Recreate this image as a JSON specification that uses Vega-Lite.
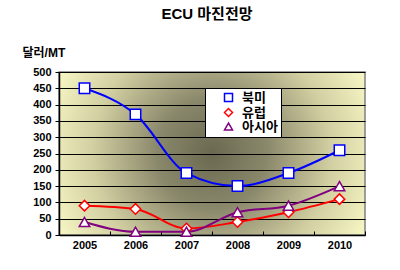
{
  "$schema": "https://vega.github.io/schema/vega-lite/v6.json",
  "width": 306,
  "height": 163,
  "autosize": {"type": "none"},
  "padding": {"left": 59, "top": 72, "right": 35, "bottom": 35},
  "background": "white",
  "title": {
    "text": "ECU 마진전망",
    "font": "Liberation Sans, Noto Sans CJK KR",
    "fontSize": 15,
    "fontWeight": "bold",
    "color": "black",
    "anchor": "middle",
    "dx": -5,
    "offset": 24
  },
  "config": {
    "font": "Liberation Sans, Noto Sans CJK KR",
    "view": {
      "stroke": "#808080",
      "strokeWidth": 1.5,
      "fill": {
        "gradient": "radial",
        "x1": 0.5, "y1": 0.5, "r1": 0,
        "x2": 0.5, "y2": 0.5, "r2": 0.6,
        "stops": [
          {"offset": 0, "color": "#6a6950"},
          {"offset": 0.3, "color": "#8a886b"},
          {"offset": 0.65, "color": "#d2cfa2"},
          {"offset": 1, "color": "#ffffcc"}
        ]
      }
    }
  },
  "data": {
    "values": [
      {"year": "2005", "region": "북미", "v": 450},
      {"year": "2006", "region": "북미", "v": 370},
      {"year": "2007", "region": "북미", "v": 190},
      {"year": "2008", "region": "북미", "v": 150},
      {"year": "2009", "region": "북미", "v": 190},
      {"year": "2010", "region": "북미", "v": 260},
      {"year": "2005", "region": "유럽", "v": 90},
      {"year": "2006", "region": "유럽", "v": 80},
      {"year": "2007", "region": "유럽", "v": 20},
      {"year": "2008", "region": "유럽", "v": 40},
      {"year": "2009", "region": "유럽", "v": 70},
      {"year": "2010", "region": "유럽", "v": 110},
      {"year": "2005", "region": "아시아", "v": 40},
      {"year": "2006", "region": "아시아", "v": 10},
      {"year": "2007", "region": "아시아", "v": 10},
      {"year": "2008", "region": "아시아", "v": 70},
      {"year": "2009", "region": "아시아", "v": 90},
      {"year": "2010", "region": "아시아", "v": 150}
    ]
  },
  "encoding": {
    "x": {
      "field": "year",
      "type": "ordinal",
      "scale": {"type": "band", "paddingInner": 0, "paddingOuter": 0},
      "axis": {
        "title": null,
        "labelAngle": 0,
        "labelFontSize": 11,
        "labelFontWeight": "bold",
        "labelColor": "black",
        "labelPadding": 8,
        "domainColor": "black",
        "domainWidth": 1.5,
        "tickColor": "black",
        "tickBand": "extent",
        "tickSize": -4,
        "grid": false
      }
    },
    "y": {
      "field": "v",
      "type": "quantitative",
      "scale": {"domain": [0, 500], "nice": false},
      "axis": {
        "values": [0, 50, 100, 150, 200, 250, 300, 350, 400, 450, 500],
        "title": "달러/MT",
        "titleAngle": 0,
        "titleAlign": "left",
        "titleBaseline": "alphabetic",
        "titleX": -37,
        "titleY": -16,
        "titleFontSize": 12,
        "titleFontWeight": "bold",
        "titleColor": "black",
        "labelFontSize": 11,
        "labelFontWeight": "bold",
        "labelColor": "black",
        "labelPadding": 4,
        "domainColor": "black",
        "domainWidth": 1.5,
        "tickColor": "black",
        "tickSize": 4,
        "grid": true,
        "gridColor": "black",
        "gridWidth": 1
      }
    }
  },
  "layer": [
    {
      "mark": {"type": "line", "interpolate": "monotone", "strokeWidth": 2},
      "encoding": {
        "color": {
          "field": "region",
          "type": "nominal",
          "scale": {"domain": ["북미", "유럽", "아시아"], "range": ["#0000ff", "#ff0000", "#800080"]},
          "legend": {
            "title": null,
            "orient": "none",
            "legendX": 146,
            "legendY": 16,
            "fillColor": "white",
            "strokeColor": "black",
            "padding": 3,
            "rowPadding": 0,
            "labelFontSize": 13,
            "labelFontWeight": "bold",
            "labelColor": "black",
            "symbolSize": 64,
            "symbolStrokeWidth": 1.5,
            "symbolFillColor": "white",
            "symbolOffset": 14,
            "labelOffset": 7
          }
        }
      }
    },
    {
      "mark": {"type": "point", "filled": false, "fill": "white", "fillOpacity": 1, "opacity": 1, "size": 110, "strokeWidth": 1.5},
      "encoding": {
        "color": {
          "field": "region",
          "type": "nominal"
        },
        "shape": {
          "field": "region",
          "type": "nominal",
          "scale": {"domain": ["북미", "유럽", "아시아"], "range": ["square", "diamond", "triangle-up"]},
          "legend": null
        }
      }
    }
  ]
}
